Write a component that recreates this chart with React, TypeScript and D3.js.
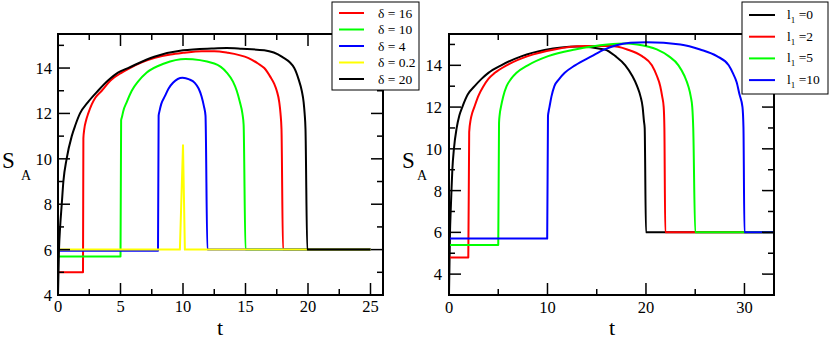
import React from "react";
import * as d3 from "d3";

type P = [number, number];

// ---------- Left panel data (t, S_A) ----------
const leftLabels = ["δ = 16", "δ = 10", "δ = 4", "δ = 0.2", "δ = 20"];
const leftColors = ["#ff0000", "#00ff00", "#0000ff", "#ffff00", "#000000"];

const red16: P[] = [[0,5],[2,5],[2.03,10.9],[2.1,11.3],[2.25,11.7],[2.42,12],[2.7,12.4],[3,12.7],[3.5,13],[4.2,13.45],[5.1,13.8],[5.75,14],[6.7,14.25],[7.75,14.45],[9,14.6],[10,14.67],[11.5,14.74],[12.5,14.74],[13.6,14.67],[14.5,14.57],[15.2,14.45],[16,14.2],[16.5,14],[17,13.6],[17.3,13.3],[17.5,13],[17.7,12.5],[17.8,12],[17.88,11.3],[18,6],[25,6]];
const green10: P[] = [[0,5.7],[5,5.7],[5.05,11.7],[5.12,11.85],[5.22,12.1],[5.5,12.5],[5.9,13],[6.4,13.4],[7.1,13.8],[8.5,14.2],[10.2,14.4],[12.5,14.2],[13.5,13.8],[14,13.4],[14.3,13],[14.55,12.5],[14.75,12],[14.85,11.5],[15,6],[25,6]];
const blue4: P[] = [[0,5.95],[8,5.95],[8.05,11.9],[8.12,12.1],[8.25,12.4],[8.55,12.76],[8.85,13.1],[9.2,13.35],[9.96,13.57],[10.5,13.5],[10.94,13.35],[11.25,13.1],[11.48,12.76],[11.68,12.3],[11.8,11.9],[11.95,6],[25,6]];
const yellow02: P[] = [[0,6],[9.75,6],[10,10.6],[10.15,6],[25,6]];
const black20: P[] = [[0,4],[0.08,6],[0.17,7],[0.3,8],[0.43,9],[0.69,10],[1.1,11],[1.4,11.5],[1.76,12],[2.4,12.5],[3.2,13],[4,13.45],[4.8,13.8],[5.6,14],[7.7,14.5],[10,14.78],[12.3,14.86],[13.5,14.88],[14.7,14.85],[16.5,14.78],[17.9,14.5],[18.9,14],[19.25,13.5],[19.5,13],[19.65,12.5],[19.73,12],[19.8,11.3],[19.94,6],[25,6]];
const leftSeries = [red16, green10, blue4, yellow02, black20];

const leftXTicks = [0, 5, 10, 15, 20, 25];
const leftXMinor = [2.5, 7.5, 12.5, 17.5, 22.5];
const leftYTicks = [4, 6, 8, 10, 12, 14];
const leftYMinor = [5, 7, 9, 11, 13, 15];

// ---------- Right panel data ----------
const rightLabels = ["0", "2", "5", "10"];
const rightColors = ["#000000", "#ff0000", "#00ff00", "#0000ff"];

const black0: P[] = [[0,3],[0.1,6],[0.17,7],[0.25,8],[0.34,9],[0.5,10],[0.78,11],[1.05,11.6],[1.35,12],[1.9,12.6],[2.6,13],[3.3,13.35],[4,13.64],[5.3,14],[7.4,14.44],[9.7,14.73],[13,14.9],[15.8,14.76],[16.9,14.44],[17.9,14],[18.6,13.5],[19.1,13],[19.45,12.5],[19.66,12],[19.8,11.3],[19.87,11],[20,6],[33,6]];
const red2: P[] = [[0,4.8],[1.96,4.8],[2.05,10.8],[2.2,11.4],[2.35,11.7],[2.57,12],[3,12.55],[3.5,13],[4,13.35],[4.66,13.64],[5.85,14],[8,14.44],[10.7,14.76],[13.8,14.92],[16.4,14.92],[18.1,14.76],[19.6,14.44],[20.6,14],[21.1,13.5],[21.45,13],[21.65,12.5],[21.8,12],[21.87,11],[21.96,6],[33,6]];
const green5: P[] = [[0,5.4],[5,5.4],[5.08,11.24],[5.15,11.65],[5.27,12],[5.5,12.5],[5.85,13],[6.3,13.35],[6.86,13.64],[8,14],[10.07,14.44],[12.8,14.76],[16.1,15],[18,15.05],[19.1,15],[21.1,14.76],[22.3,14.44],[23.3,14],[23.9,13.5],[24.3,13],[24.55,12.5],[24.7,12],[24.8,11],[25,6],[33,6]];
const blue10: P[] = [[0,5.7],[9.97,5.7],[10.05,11.56],[10.12,11.8],[10.2,12],[10.4,12.5],[10.7,13],[11.2,13.35],[11.75,13.64],[12.8,14],[14.5,14.44],[15.8,14.76],[16.9,14.95],[18.4,15.08],[20.1,15.11],[23.5,15],[25.5,14.76],[27.2,14.44],[28.4,14],[28.85,13.6],[29.2,13.2],[29.5,12.6],[29.8,12],[29.9,11],[30,6],[33,6]];
const rightSeries = [black0, red2, green5, blue10];

const rightXTicks = [0, 10, 20, 30];
const rightXMinor = [5, 15, 25];
const rightYTicks = [4, 6, 8, 10, 12, 14];
const rightYMinor = [5, 7, 9, 11, 13, 15];

const FONT = "Liberation Serif, Times New Roman, serif";

interface PanelProps {
  x0: number; x1: number; yTop: number; yBot: number;
  xDomain: [number, number]; yDomain: [number, number];
  series: P[][]; colors: string[]; linearIdx?: number[];
  xTicks: number[]; xMinor: number[]; yTicks: number[]; yMinor: number[];
  yLabelGap: number; xLabelBase: number;
}

function Panel(p: PanelProps) {
  const x = d3.scaleLinear().domain(p.xDomain).range([p.x0, p.x1]);
  const y = d3.scaleLinear().domain(p.yDomain).range([p.yBot, p.yTop]);
  const mono = d3.line<P>().x(d => x(d[0])).y(d => y(d[1])).curve(d3.curveMonotoneX);
  const lin = d3.line<P>().x(d => x(d[0])).y(d => y(d[1]));
  const MAJ = 12, MIN = 6;
  const tk = { stroke: "#000", strokeWidth: 1.5 };
  return (
    <g>
      {p.series.map((s, i) => (
        <path key={i} d={(p.linearIdx && p.linearIdx.includes(i) ? lin : mono)(s) || ""}
          fill="none" stroke={p.colors[i]} strokeWidth={2} strokeLinejoin="round" />
      ))}
      <rect x={p.x0} y={p.yTop} width={p.x1 - p.x0} height={p.yBot - p.yTop} fill="none" stroke="#000" strokeWidth={2} />
      {p.xTicks.map(t => (
        <g key={"xt" + t}>
          <line x1={x(t)} x2={x(t)} y1={p.yBot} y2={p.yBot - MAJ} {...tk} />
          <line x1={x(t)} x2={x(t)} y1={p.yTop} y2={p.yTop + MAJ} {...tk} />
          <text x={x(t)} y={p.xLabelBase} textAnchor="middle" fontSize={16.5} fontFamily={FONT}>{t}</text>
        </g>
      ))}
      {p.xMinor.map(t => (
        <g key={"xm" + t}>
          <line x1={x(t)} x2={x(t)} y1={p.yBot} y2={p.yBot - MIN} {...tk} />
          <line x1={x(t)} x2={x(t)} y1={p.yTop} y2={p.yTop + MIN} {...tk} />
        </g>
      ))}
      {p.yTicks.map(v => (
        <g key={"yt" + v}>
          <line x1={p.x0} x2={p.x0 + MAJ} y1={y(v)} y2={y(v)} {...tk} />
          <line x1={p.x1} x2={p.x1 - MAJ} y1={y(v)} y2={y(v)} {...tk} />
          <text x={p.x0 - p.yLabelGap} y={y(v)} dy="0.36em" textAnchor="end" fontSize={16.5} fontFamily={FONT}>{v}</text>
        </g>
      ))}
      {p.yMinor.map(v => (
        <g key={"ym" + v}>
          <line x1={p.x0} x2={p.x0 + MIN} y1={y(v)} y2={y(v)} {...tk} />
          <line x1={p.x1} x2={p.x1 - MIN} y1={y(v)} y2={y(v)} {...tk} />
        </g>
      ))}
    </g>
  );
}

export default function App() {
  return (
    <svg width={830} height={339} style={{ position: "absolute", left: 0, top: 0, background: "#fff" }}>
      <rect x={0} y={0} width={830} height={339} fill="#fff" />
      <Panel x0={58} x1={383} yTop={34} yBot={295} xDomain={[0, 26]} yDomain={[4, 15.5]}
        series={leftSeries} colors={leftColors} linearIdx={[3]}
        xTicks={leftXTicks} xMinor={leftXMinor} yTicks={leftYTicks} yMinor={leftYMinor}
        yLabelGap={6} xLabelBase={312} />
      <Panel x0={449} x1={774} yTop={34} yBot={295} xDomain={[0, 33]} yDomain={[3, 15.5]}
        series={rightSeries} colors={rightColors}
        xTicks={rightXTicks} xMinor={rightXMinor} yTicks={rightYTicks} yMinor={rightYMinor}
        yLabelGap={7} xLabelBase={313} />

      {/* axis titles */}
      <text x={220} y={335} textAnchor="middle" fontSize={22} fontFamily={FONT}>t</text>
      <text x={612} y={335} textAnchor="middle" fontSize={22} fontFamily={FONT}>t</text>
      <text x={2} y={168} fontSize={23} fontFamily={FONT}>S</text>
      <text x={21} y={180} fontSize={14} fontFamily={FONT}>A</text>
      <text x={402} y={168} fontSize={23} fontFamily={FONT}>S</text>
      <text x={417} y={180} fontSize={14} fontFamily={FONT}>A</text>

      {/* left legend */}
      <rect x={332} y={2} width={87} height={88} fill="#fff" stroke="#000" strokeWidth={1} />
      {leftLabels.map((l, i) => (
        <g key={l}>
          <line x1={339} x2={364} y1={13 + i * 16.5} y2={13 + i * 16.5} stroke={leftColors[i]} strokeWidth={2} />
          <text x={378} y={13 + i * 16.5} dy="0.35em" fontSize={13.5} fontFamily={FONT}>{l}</text>
        </g>
      ))}

      {/* right legend */}
      <rect x={742} y={2} width={86} height={92} fill="#fff" stroke="#000" strokeWidth={1} />
      {rightLabels.map((l, i) => (
        <g key={l}>
          <line x1={749} x2={775} y1={15 + i * 21.7} y2={15 + i * 21.7} stroke={rightColors[i]} strokeWidth={2} />
          <text x={787} y={15 + i * 21.7} dy="0.3em" fontSize={13.5} fontFamily={FONT}>
            <tspan>l</tspan>
            <tspan dy={4} fontSize={9}>1</tspan>
            <tspan dy={-4}>{" =" + l}</tspan>
          </text>
        </g>
      ))}
    </svg>
  );
}
